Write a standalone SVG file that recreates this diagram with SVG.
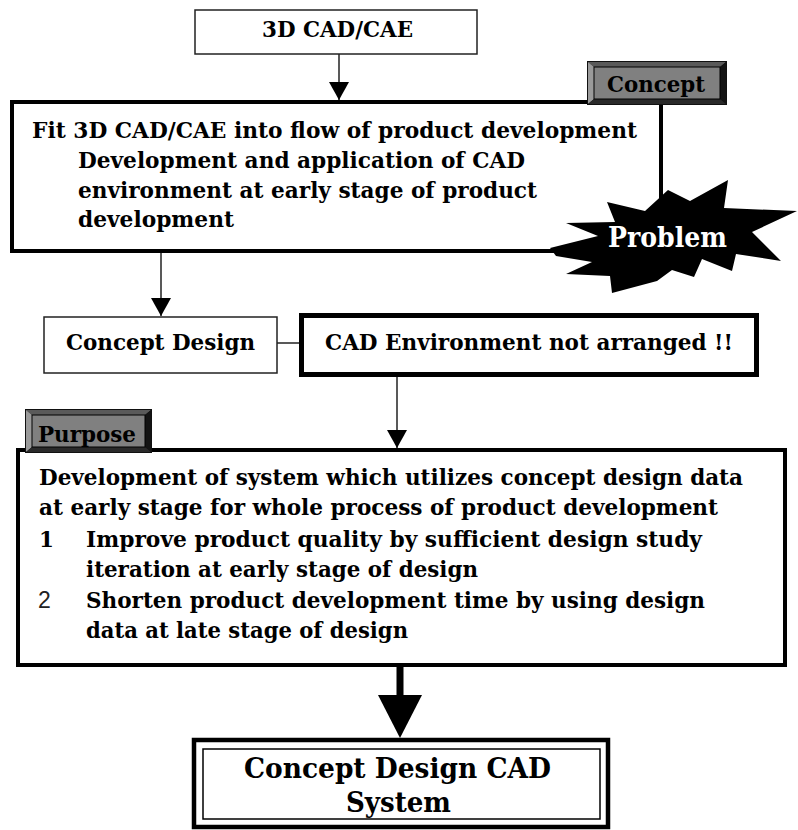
<svg xmlns="http://www.w3.org/2000/svg" width="798" height="830" viewBox="0 0 798 830">
  <style>
    .t { font-family: "DejaVu Serif", "Liberation Serif", serif; font-weight: bold; fill: #000; }
    .thin { fill: #fff; stroke: #222; stroke-width: 1.5; }
    .heavy { fill: #fff; stroke: #000; stroke-width: 4; }
    .wire { stroke: #222; stroke-width: 1.5; fill: none; }
    .bv-outer { fill: #111; }
    .bv-top { fill: #5a5a5a; }
    .bv-left { fill: #9a9a9a; }
    .bv-right { fill: #141414; }
    .bv-bottom { fill: #2a2a2a; }
    .bv-face { fill: #808080; stroke: #000; stroke-width: 1; }
  </style>
  <defs>
    <marker id="arrow" markerUnits="userSpaceOnUse" markerWidth="20" markerHeight="20" viewBox="0 0 18 20" refX="18" refY="10" orient="auto">
      <path d="M0,0 L18,10 L0,20 z" fill="#000"/>
    </marker>
  </defs>
  <rect width="798" height="830" fill="#fff"/>

  <!-- connectors -->
  <g id="connectors">
    <line class="wire" x1="339" y1="54" x2="339" y2="100" marker-end="url(#arrow)"/>
    <line class="wire" x1="161" y1="253" x2="161" y2="316" marker-end="url(#arrow)"/>
    <line class="wire" x1="277" y1="343" x2="299" y2="343"/>
    <line class="wire" x1="397" y1="377" x2="397" y2="448" marker-end="url(#arrow)"/>
    <rect x="396.5" y="665" width="7" height="32" fill="#000"/>
    <polygon points="378,695 422,695 400,738" fill="#000"/>
  </g>

  <!-- source box -->
  <g id="node-3dcad">
    <rect class="thin" x="195" y="10" width="282" height="44"/>
    <text class="t" x="262" y="37" font-size="22.5" textLength="151" lengthAdjust="spacingAndGlyphs">3D CAD/CAE</text>
  </g>

  <!-- concept statement box -->
  <g id="node-concept">
    <rect class="heavy" x="12" y="102" width="649" height="149"/>
    <text class="t" font-size="22.5">
      <tspan x="32" y="138" textLength="605" lengthAdjust="spacingAndGlyphs">Fit 3D CAD/CAE into flow of product development</tspan>
      <tspan x="78" y="168" textLength="447" lengthAdjust="spacingAndGlyphs">Development and application of CAD</tspan>
      <tspan x="78" y="198" textLength="459" lengthAdjust="spacingAndGlyphs">environment at early stage of product</tspan>
      <tspan x="78" y="227" textLength="156" lengthAdjust="spacingAndGlyphs">development</tspan>
    </text>
  </g>

  <!-- bevelled "Concept" tag -->
  <g id="tag-concept">
    <rect class="bv-outer" x="587" y="61" width="140" height="44"/>
    <polygon class="bv-top" points="588,62 726,62 720,67 594,67"/>
    <polygon class="bv-left" points="588,62 594,67 594,99 588,104"/>
    <polygon class="bv-right" points="726,62 726,104 720,99 720,67"/>
    <polygon class="bv-bottom" points="588,104 726,104 720,99 594,99"/>
    <rect class="bv-face" x="594" y="67" width="126" height="32"/>
    <text class="t" x="607" y="92" font-size="22.5" textLength="98" lengthAdjust="spacingAndGlyphs">Concept</text>
  </g>

  <!-- "Problem" burst -->
  <g id="burst-problem">
    <polygon fill="#000" points="550,248 598,236 566,223 615,222 607,202 645,211 668,190 690,201 728,180 724,208 797,211 752,232 781,261 736,254 732,271 702,259 694,277 672,270 657,281 612,293 610,276 566,274 592,262 556,256"/>
    <text x="608" y="247" font-size="27" textLength="119" lengthAdjust="spacingAndGlyphs" style="font-family: 'DejaVu Serif', 'Liberation Serif', serif; font-weight: bold; fill: #fff;">Problem</text>
  </g>

  <!-- concept design box -->
  <g id="node-concept-design">
    <rect class="thin" x="44" y="317" width="233" height="56"/>
    <text class="t" x="66" y="350" font-size="22.5" textLength="189" lengthAdjust="spacingAndGlyphs">Concept Design</text>
  </g>

  <!-- problem statement box -->
  <g id="node-cad-env">
    <rect x="301.5" y="315.5" width="455" height="59" fill="#fff" stroke="#000" stroke-width="5"/>
    <text class="t" x="325" y="350" font-size="22.5" textLength="408" lengthAdjust="spacingAndGlyphs">CAD Environment not arranged !!</text>
  </g>

  <!-- purpose box -->
  <g id="node-purpose">
    <rect class="heavy" x="18" y="450" width="767" height="215"/>
    <text class="t" font-size="21.5">
      <tspan x="39" y="485" textLength="704" lengthAdjust="spacingAndGlyphs">Development of system which utilizes concept design data</tspan>
      <tspan x="39" y="515" textLength="679" lengthAdjust="spacingAndGlyphs">at early stage for whole process of product development</tspan>
      <tspan x="39" y="547">1</tspan>
      <tspan x="86" y="547" textLength="616" lengthAdjust="spacingAndGlyphs">Improve product quality by sufficient design study</tspan>
      <tspan x="86" y="577" textLength="392" lengthAdjust="spacingAndGlyphs">iteration at early stage of design</tspan>
      <tspan x="86" y="608" textLength="619" lengthAdjust="spacingAndGlyphs">Shorten product development time by using design</tspan>
      <tspan x="86" y="638" textLength="322" lengthAdjust="spacingAndGlyphs">data at late stage of design</tspan>
    </text>
    <text x="38" y="608" font-size="23" style="font-family: 'Liberation Sans', Arial, sans-serif; font-weight: normal; fill: #222;">2</text>
  </g>

  <!-- bevelled "Purpose" tag -->
  <g id="tag-purpose">
    <rect class="bv-outer" x="25" y="409" width="127" height="44"/>
    <polygon class="bv-top" points="26,410 151,410 145,415 32,415"/>
    <polygon class="bv-left" points="26,410 32,415 32,447 26,452"/>
    <polygon class="bv-right" points="151,410 151,452 145,447 145,415"/>
    <polygon class="bv-bottom" points="26,452 151,452 145,447 32,447"/>
    <rect class="bv-face" x="32" y="415" width="113" height="32"/>
    <text class="t" x="38" y="442" font-size="22.5" textLength="98" lengthAdjust="spacingAndGlyphs">Purpose</text>
  </g>

  <!-- result box, double frame -->
  <g id="node-system">
    <rect x="194" y="740" width="414" height="87" fill="#fff" stroke="#000" stroke-width="4.5"/>
    <rect x="203" y="749" width="397" height="70" fill="none" stroke="#000" stroke-width="1.5"/>
    <text class="t" x="244" y="778" font-size="28" textLength="307" lengthAdjust="spacingAndGlyphs">Concept Design CAD</text>
    <text class="t" x="346" y="812" font-size="28" textLength="105" lengthAdjust="spacingAndGlyphs">System</text>
  </g>
</svg>
